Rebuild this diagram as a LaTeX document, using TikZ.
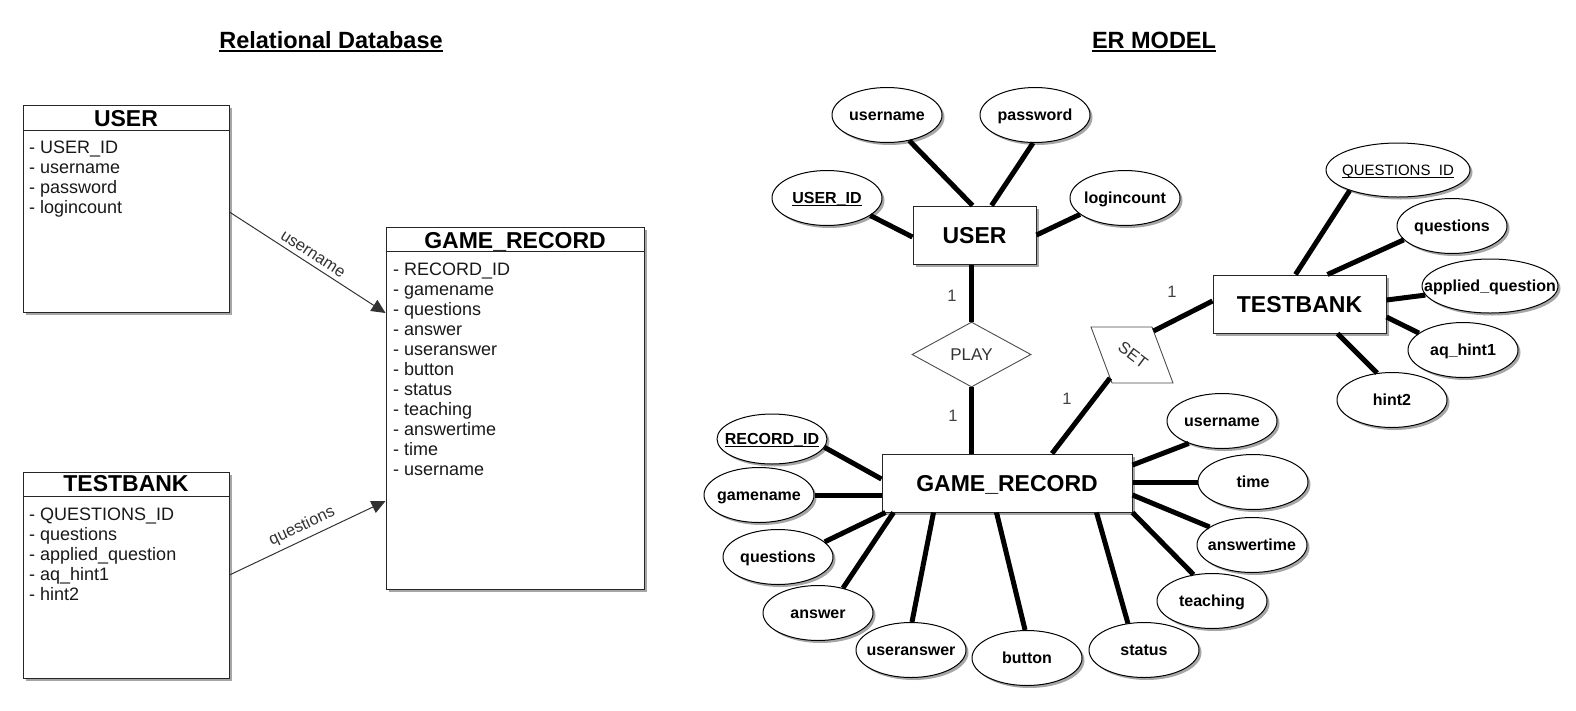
\documentclass[tikz,border=0pt]{standalone}
\usepackage{fontspec}
\setmainfont{Liberation Sans}
\usetikzlibrary{shapes.geometric,arrows.meta,shadows}
\newcommand\myul[1]{\setbox0\hbox{#1}\rlap{\rule[-2.4pt]{\wd0}{1.4pt}}\box0}
\newcommand\fsz[1]{\fontsize{#1}{#1}\selectfont}
\newcommand\zw[1]{\makebox[0pt]{#1}}
\begin{document}
\begin{tikzpicture}[x=1pt,y=-1pt,
  shad/.style={drop shadow={shadow xshift=2.5pt,shadow yshift=-2.5pt,opacity=0.35,fill=black}},
  tbl/.style={rectangle,draw=black!85,line width=0.9pt,fill=white,inner sep=0pt,shad},
  sepline/.style={draw=black!85,line width=0.9pt},
  hdr/.style={font=\bfseries\fsz{23},inner sep=0pt,anchor=base},
  item/.style={font=\fsz{18},inner sep=0pt,anchor=base west,text=black!90},
  rel/.style={draw=black!80,line width=1pt,-{Triangle[length=14pt,width=13pt]}},
  lbl/.style={font=\fsz{16.5},text=black!80,inner sep=4.5pt},
  title/.style={font=\bfseries\fsz{23.5},inner sep=0pt,anchor=base},
  ent/.style={rectangle,draw=black!85,line width=1pt,fill=white,minimum height=58pt,inner sep=0pt,
    font=\bfseries\fsz{23},text height=16.5pt,text depth=0pt,shad},
  attr/.style={ellipse,draw=black,line width=1pt,fill=white,minimum width=110pt,minimum height=55pt,
    inner sep=0pt,font=\bfseries\fsz{16},text height=11.5pt,text depth=0pt,shad},
  er/.style={draw=black,line width=5pt},
  one/.style={font=\fsz{16.5},text=black!75,inner sep=0pt},
  relshape/.style={draw=black!70,line width=0.9pt,fill=white}
]
\useasboundingbox (0,0) rectangle (1576,710);

% ---------------- Relational database ----------------
\node[title] (t1) at (331,48) {Relational Database};
\draw[line width=1.8pt] ([yshift=-2.8pt]t1.base west) -- ([yshift=-2.8pt]t1.base east);

\node[tbl,minimum width=206pt,minimum height=207pt] (luser) at (126,208.5) {};
\draw[sepline] ([yshift=-26pt]luser.north west) -- ([yshift=-26pt]luser.north east);
\node[hdr] (luserh) at (126,126) {USER};
\foreach \t [count=\i] in {USER\_ID,username,password,logincount}
  \node[item] (lu\i) at (29,133.5+20*\i) {- \t};

\node[tbl,minimum width=258pt,minimum height=362pt] (lgr) at (515,408) {};
\draw[sepline] ([yshift=-25pt]lgr.north west) -- ([yshift=-25pt]lgr.north east);
\node[hdr] (lgrh) at (515,248) {GAME\_RECORD};
\foreach \t [count=\i] in {RECORD\_ID,gamename,questions,answer,useranswer,button,status,teaching,answertime,time,username}
  \node[item] (lg\i) at (393,255.5+20*\i) {- \t};

\node[tbl,minimum width=206pt,minimum height=206pt] (ltb) at (126,575) {};
\draw[sepline] ([yshift=-25pt]ltb.north west) -- ([yshift=-25pt]ltb.north east);
\node[hdr] (ltbh) at (126,491) {TESTBANK};
\foreach \t [count=\i] in {QUESTIONS\_ID,questions,applied\_question,aq\_hint1,hint2}
  \node[item] (lt\i) at (29,500.5+20*\i) {- \t};

\draw[rel] ([yshift=-3.5pt]luser.east) -- node[lbl,sloped,above] (lblu) {username} ([yshift=95pt]lgr.west);
\draw[rel] (ltb.east) -- node[lbl,sloped,above] (lblq) {questions} ([yshift=-93pt]lgr.west);

% ---------------- ER model ----------------
\node[title] (t2) at (1154,48) {ER MODEL};
\draw[line width=1.8pt] ([yshift=-2.8pt]t2.base west) -- ([yshift=-2.8pt]t2.base east);

\node[ent,minimum width=123pt] (user) at (974.5,235) {USER};
\node[ent,minimum width=250pt] (gr) at (1007,483) {GAME\_RECORD};
\node[ent,minimum width=173pt] (tb) at (1299.5,304) {TESTBANK};

\node[diamond,draw=black!70,line width=0.9pt,fill=white,minimum width=119pt,minimum height=65pt,
  inner sep=0pt,font=\fsz{17},text=black!80] (play) at (971.5,354.5) {PLAY};

\coordinate (stl) at (1091,327);
\coordinate (str) at (1152,327);
\coordinate (sbr) at (1173,383);
\coordinate (sbl) at (1112,383);
\draw[relshape] (stl) -- (str) -- (sbr) -- (sbl) -- cycle;
\node[rotate=-37,font=\fsz{16.5},text=black!80,inner sep=0pt] (settxt) at (1133,355) {SET};
\coordinate (setNE) at (1153.5,331);
\coordinate (setSW) at (1110,378);

% USER attributes
\node[attr] (ua1) at (887,115) {\zw{username}};
\node[attr] (ua2) at (1035,115) {\zw{password}};
\node[attr] (ua3) at (827,198) {\zw{\myul{USER\_ID}}};
\node[attr] (ua4) at (1125,198) {\zw{logincount}};

% GAME_RECORD attributes
\node[attr,minimum height=50pt] (ga1) at (772,439) {\zw{\myul{RECORD\_ID}}};
\node[attr] (ga2) at (759,495) {\zw{gamename}};
\node[attr] (ga3) at (778,557) {\zw{questions}};
\node[attr] (ga4) at (818,613) {\zw{answer}};
\node[attr] (ga5) at (911,650) {\zw{useranswer}};
\node[attr] (ga6) at (1027,658) {\zw{button}};
\node[attr] (ga7) at (1144,650) {\zw{status}};
\node[attr] (ga8) at (1212,601) {\zw{teaching}};
\node[attr] (ga9) at (1252,545) {\zw{answertime}};
\node[attr] (ga10) at (1253,482) {\zw{time}};
\node[attr] (ga11) at (1222,421) {\zw{username}};

% TESTBANK attributes
\node[attr,minimum width=144pt,minimum height=54pt,font=\fsz{15}] (ta1) at (1398,170) {\zw{\myul{QUESTIONS\_ID}}};
\node[attr] (ta2) at (1452,226) {\zw{questions}};
\node[attr,minimum width=136pt,minimum height=54pt] (ta3) at (1490,286) {\zw{applied\_question}};
\node[attr] (ta4) at (1463,350) {\zw{aq\_hint1}};
\node[attr] (ta5) at (1392,400) {\zw{hint2}};

% connectors USER
\draw[er] (ua1.-49) -- ([xshift=60pt]user.north west);
\draw[er] (ua2.-94) -- ([xshift=79pt]user.north west);
\draw[er] (ua3.-22) -- ([yshift=-2pt]user.west);
\draw[er] (ua4.-160) -- (user.east);

% connectors GAME_RECORD
\draw[er] (ga1.-9) -- ([yshift=4pt]gr.west);
\draw[er] (ga2.east) -- ([yshift=-12pt]gr.west);
\draw[er] (ga3.18) -- ([xshift=4pt]gr.south west);
\draw[er] (ga4.45) -- ([xshift=12pt]gr.south west);
\draw[er] (ga5.88) -- ([xshift=52pt]gr.south west);
\draw[er] (ga6.94) -- ([xshift=115pt]gr.south west);
\draw[er] (ga7.121) -- ([xshift=215pt]gr.south west);
\draw[er] (ga8.125) -- (gr.south east);
\draw[er] (ga9.157) -- ([yshift=-12pt]gr.east);
\draw[er] (ga10.west) -- ([yshift=1pt]gr.east);
\draw[er] (ga11.-146) -- ([yshift=18pt]gr.east);

% connectors TESTBANK
\draw[er] (ta1.-157) -- ([xshift=83pt]tb.north west);
\draw[er] (ta2.-164) -- ([xshift=115pt]tb.north west);
\draw[er] (ta3.-172) -- ([yshift=4pt]tb.east);
\draw[er] (ta4.159) -- ([yshift=-13pt]tb.east);
\draw[er] (ta5.119) -- ([xshift=125pt]tb.south west);

% relationships
\draw[er] (play.north) -- (play.north |- user.south);
\draw[er] (play.south) -- (play.south |- gr.north);
\draw[er] (setNE) -- ([yshift=3pt]tb.west);
\draw[er] (setSW) -- ([xshift=45pt]gr.north);

\node[one] (one1) at (952,296) {1};
\node[one] (one2) at (953,416) {1};
\node[one] (one3) at (1067,399) {1};
\node[one] (one4) at (1172,292) {1};
\end{tikzpicture}
\end{document}
